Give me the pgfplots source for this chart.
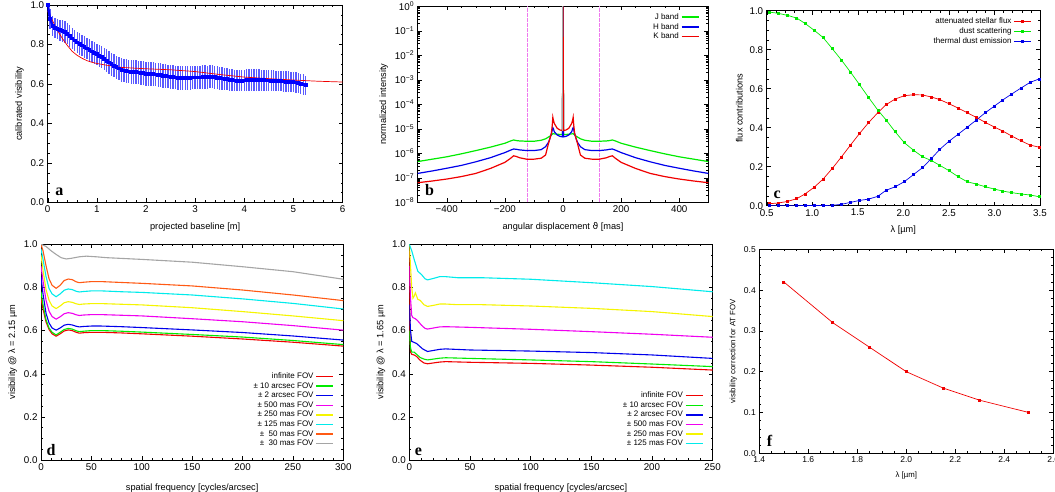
\documentclass[border=0pt]{standalone}
\usepackage{pgfplots}
\pgfplotsset{compat=1.18}
\usepackage{pgfplotstable}
\usepackage{fontspec}
\setmainfont{Liberation Sans}
\newfontfamily\panelfont{Liberation Serif}
\newfontfamily\dejavu{DejaVu Sans}
\definecolor{gpgreen}{RGB}{0,235,0}
\definecolor{gpblue}{RGB}{0,0,235}
\definecolor{gpred}{RGB}{240,0,0}
\definecolor{gpmag}{RGB}{240,0,240}
\definecolor{gpyel}{RGB}{245,245,0}
\definecolor{gpcyan}{RGB}{0,235,235}
\definecolor{gporange}{RGB}{255,90,20}
\definecolor{gpgray}{RGB}{165,165,165}
\definecolor{gperr}{RGB}{90,90,255}
\definecolor{gppink}{RGB}{238,120,238}
\tikzset{
  dec1/.style={/pgf/number format/.cd, fixed, fixed zerofill, precision=1},
  panel/.style={font=\panelfont\bfseries\fontsize{16}{16}\selectfont, anchor=base west, inner sep=0pt},
}
\pgfplotsset{
  gp/.style={
    scale only axis,
    anchor=south west,
    axis line style={line width=0.8pt},
    tick align=inside,
    major tick length=4pt, minor tick length=2pt,
    every tick/.style={black, line width=0.4pt},
    tick label style={font=\fontsize{9.8}{10}\selectfont},
    label style={font=\fontsize{9.2}{10}\selectfont},
    xlabel style={yshift=-3pt},
    /pgf/number format/assume math mode=true,
    legend style={draw=none, fill=none, font=\fontsize{8}{9.5}\selectfont, row sep=-1.5pt},
    legend cell align=right,
    legend plot pos=right,
    legend image post style={line width=1.4pt},
    every axis plot/.append style={line width=1.1pt},
  },
}
\pgfplotstableread{
x y e
0.00 1.000 0.00
0.05 0.930 0.05
0.10 0.895 0.05
0.15 0.885 0.05
0.20 0.878 0.05
0.25 0.872 0.052
0.30 0.868 0.055
0.35 0.862 0.055
0.40 0.855 0.055
0.45 0.843 0.055
0.50 0.830 0.055
0.55 0.820 0.055
0.60 0.810 0.055
0.65 0.802 0.055
0.70 0.795 0.055
0.75 0.787 0.055
0.80 0.780 0.055
0.85 0.772 0.055
0.90 0.765 0.055
0.95 0.757 0.055
1.00 0.750 0.055
1.05 0.742 0.055
1.10 0.735 0.055
1.15 0.727 0.057
1.20 0.718 0.058
1.25 0.709 0.058
1.30 0.700 0.058
1.35 0.692 0.058
1.40 0.685 0.058
1.45 0.678 0.06
1.50 0.672 0.06
1.55 0.668 0.06
1.60 0.665 0.06
1.65 0.663 0.06
1.70 0.662 0.06
1.75 0.661 0.06
1.80 0.660 0.06
1.85 0.658 0.06
1.90 0.657 0.06
1.95 0.655 0.06
2.00 0.652 0.06
2.05 0.651 0.06
2.10 0.650 0.06
2.15 0.649 0.06
2.20 0.648 0.06
2.25 0.646 0.06
2.30 0.645 0.06
2.35 0.642 0.06
2.40 0.640 0.06
2.45 0.638 0.06
2.50 0.636 0.06
2.55 0.634 0.06
2.60 0.633 0.06
2.65 0.632 0.06
2.70 0.632 0.06
2.75 0.632 0.06
2.80 0.632 0.06
2.85 0.632 0.06
2.90 0.632 0.06
2.95 0.633 0.06
3.00 0.633 0.06
3.05 0.633 0.06
3.10 0.633 0.06
3.15 0.634 0.06
3.20 0.634 0.06
3.25 0.635 0.058
3.30 0.636 0.058
3.35 0.636 0.058
3.40 0.635 0.058
3.45 0.632 0.058
3.50 0.630 0.058
3.55 0.628 0.056
3.60 0.627 0.055
3.65 0.624 0.055
3.70 0.622 0.055
3.75 0.620 0.055
3.80 0.618 0.055
3.85 0.617 0.055
3.90 0.617 0.055
3.95 0.617 0.055
4.00 0.618 0.055
4.05 0.619 0.055
4.10 0.619 0.055
4.15 0.620 0.055
4.20 0.620 0.055
4.25 0.620 0.055
4.30 0.620 0.055
4.35 0.620 0.053
4.40 0.619 0.052
4.45 0.618 0.052
4.50 0.618 0.052
4.55 0.617 0.052
4.60 0.617 0.052
4.65 0.616 0.052
4.70 0.615 0.052
4.75 0.614 0.052
4.80 0.613 0.052
4.85 0.612 0.052
4.90 0.612 0.052
4.95 0.611 0.052
5.00 0.610 0.052
5.05 0.608 0.052
5.10 0.605 0.052
5.15 0.601 0.052
5.20 0.597 0.052
5.25 0.593 0.05
}\visdata
\begin{document}
\begin{tikzpicture}
\path[use as bounding box] (0pt,0pt) rectangle (1055pt,492pt);

% ---------------- panel a ----------------
\begin{axis}[gp, at={(47.7pt,289.5pt)}, width=294.8pt, height=197.5pt,
  xmin=0, xmax=6, ymin=0, ymax=1,
  xtick={0,1,...,6}, ytick={0,0.2,...,1.0},
  minor x tick num=4, minor y tick num=3,
  yticklabel style={dec1},
  xlabel={projected baseline [m]}, ylabel={calibrated visibility}]
\addplot[blue, line width=2.2pt, mark=square*, mark size=0.8pt,
  error bars/.cd, y dir=both, y explicit,
  error bar style={gperr, line width=1.35pt}, error mark=none] table[x=x, y=y, y error=e] {\visdata};
\addplot[gpred, line width=0.7pt] coordinates {
(0,0.97) (0.05,0.945) (0.1,0.92) (0.2,0.87) (0.3,0.83) (0.4,0.795) (0.5,0.765)
(0.6,0.745) (0.7,0.73) (0.8,0.718) (0.9,0.71) (1.0,0.704) (1.2,0.695) (1.5,0.684)
(2.0,0.677) (2.5,0.672) (3.0,0.663) (3.5,0.648) (4.0,0.635) (4.5,0.627)
(5.0,0.62) (5.5,0.614) (6.0,0.61)};
\addplot[blue, line width=2.2pt, mark=square*, mark size=0.8pt] table[x=x, y=y] {\visdata};
\node[panel] at (rel axis cs:0.025,0.035) {a};
\end{axis}

% ---------------- panel b ----------------
\begin{axis}[gp, at={(417.7pt,289.7pt)}, width=290.6pt, height=196pt,
  ymode=log, xmin=-500, xmax=500, ymin=1e-8, ymax=1,
  xtick={-400,-200,0,200,400}, xticklabels={−400,−200,0,200,400},
  minor x tick num=3,
  ytick={1e-8,1e-7,1e-6,1e-5,1e-4,1e-3,1e-2,1e-1,1},
  yticklabels={10\textsuperscript{−8},10\textsuperscript{−7},10\textsuperscript{−6},10\textsuperscript{−5},10\textsuperscript{−4},10\textsuperscript{−3},10\textsuperscript{−2},10\textsuperscript{−1},10\textsuperscript{0}},
  xlabel={angular displacement {\dejavu ϑ} [mas]}, ylabel={normalized intensity},
  legend style={at={(0.98,0.985)}, anchor=north east}]
\addplot[color=gppink, line width=0.9pt, dash pattern=on 4pt off 1pt, forget plot] coordinates {(-124,1e-8) (-124,1)};
\addplot[color=gppink, line width=0.9pt, dash pattern=on 4pt off 1pt, forget plot] coordinates {(124,1e-8) (124,1)};
\addplot[gpgreen, line width=1.2pt] coordinates {
(-500,4.6e-7) (-450,5.75e-7) (-400,7.2e-7) (-350,9.5e-7) (-300,1.29e-6) (-250,1.78e-6)
(-200,2.57e-6) (-180,3.2e-6) (-170,3.5e-6) (-160,3.3e-6) (-150,3.2e-6) (-125,3.1e-6)
(-100,3.1e-6) (-75,3.4e-6) (-60,3.9e-6) (-50,4.6e-6) (-45,5e-6) (-40,5.6e-6) (-35,6.3e-6)
(-30,6.2e-6) (-20,6e-6) (-10,5.9e-6) (-2,5.9e-6) (0,1) (2,5.9e-6) (10,5.9e-6) (20,6e-6)
(30,6.2e-6) (35,6.3e-6) (40,5.6e-6) (45,5e-6) (50,4.6e-6) (60,3.9e-6) (75,3.4e-6)
(100,3.1e-6) (125,3.1e-6) (150,3.2e-6) (160,3.3e-6) (170,3.5e-6) (180,3.2e-6)
(200,2.57e-6) (250,1.78e-6) (300,1.29e-6) (350,9.5e-7) (400,7.2e-7) (450,5.75e-7) (500,4.6e-7)};
\addlegendentry{J band}
\addplot[gpblue, line width=1.2pt] coordinates {
(-500,1.51e-7) (-450,1.9e-7) (-400,2.45e-7) (-350,3.2e-7) (-300,4.5e-7) (-250,6.6e-7)
(-200,1.07e-6) (-180,1.35e-6) (-170,1.5e-6) (-160,1.45e-6) (-150,1.38e-6) (-125,1.29e-6)
(-100,1.29e-6) (-75,1.41e-6) (-60,1.86e-6) (-50,2.8e-6) (-45,4e-6) (-40,6.3e-6) (-37,8.9e-6)
(-35,1.12e-5) (-33,1e-5) (-30,7.6e-6) (-20,5.6e-6) (-10,4.9e-6) (-2,4.7e-6) (0,1)
(2,4.7e-6) (10,4.9e-6) (20,5.6e-6) (30,7.6e-6) (33,1e-5) (35,1.12e-5) (37,8.9e-6)
(40,6.3e-6) (45,4e-6) (50,2.8e-6) (60,1.86e-6) (75,1.41e-6) (100,1.29e-6) (125,1.29e-6)
(150,1.38e-6) (160,1.45e-6) (170,1.5e-6) (180,1.35e-6) (200,1.07e-6) (250,6.6e-7)
(300,4.5e-7) (350,3.2e-7) (400,2.45e-7) (450,1.9e-7) (500,1.51e-7)};
\addlegendentry{H band}
\addplot[gpred, line width=1.2pt] coordinates {
(-500,6.3e-8) (-450,7.4e-8) (-400,8.9e-8) (-350,1.12e-7) (-300,1.51e-7) (-250,2.4e-7)
(-200,4.27e-7) (-180,6.3e-7) (-170,7.9e-7) (-160,7.4e-7) (-150,6.6e-7) (-125,5.75e-7)
(-100,5.75e-7) (-75,6.3e-7) (-60,8.5e-7) (-50,2.5e-6) (-45,4e-6) (-40,6.6e-6) (-37,1.41e-5)
(-35,2.95e-5) (-33,2.24e-5) (-30,1.66e-5) (-20,1.05e-5) (-10,8.9e-6) (-2,8.5e-6) (0,1)
(2,8.5e-6) (10,8.9e-6) (20,1.05e-5) (30,1.66e-5) (33,2.24e-5) (35,2.95e-5) (37,1.41e-5)
(40,6.6e-6) (45,4e-6) (50,2.5e-6) (60,8.5e-7) (75,6.3e-7) (100,5.75e-7) (125,5.75e-7)
(150,6.6e-7) (160,7.4e-7) (170,7.9e-7) (180,6.3e-7) (200,4.27e-7) (250,2.4e-7)
(300,1.51e-7) (350,1.12e-7) (400,8.9e-8) (450,7.4e-8) (500,6.3e-8)};
\addlegendentry{K band}
\addplot[gpgray, line width=1.2pt, forget plot] coordinates {(-1.5,8.5e-6) (-1.5,1)};
\node[panel] at (rel axis cs:0.025,0.035) {b};
\end{axis}

% ---------------- panel c ----------------
\begin{axis}[gp, at={(766.7pt,286.3pt)}, width=273.3pt, height=195pt,
  xmin=0.5, xmax=3.5, ymin=0, ymax=1,
  xtick={0.5,1.0,...,3.5}, ytick={0,0.2,...,1.0},
  minor x tick num=4, minor y tick num=3,
  xticklabel style={dec1}, yticklabel style={dec1},
  xlabel={λ [µm]}, ylabel={flux contributions},
  legend style={at={(0.98,0.985)}, anchor=north east},
  legend image post style={line width=0.8pt},
  every axis plot/.append style={line width=0.7pt, mark=square*, mark size=1pt}]
\addplot[gpred, mark options={gpred}] coordinates {
(0.53,0.01) (0.63,0.014) (0.73,0.022) (0.83,0.036) (0.92,0.06) (1.02,0.094) (1.12,0.137)
(1.22,0.191) (1.32,0.25) (1.42,0.311) (1.52,0.371) (1.62,0.427) (1.72,0.477) (1.81,0.518)
(1.91,0.547) (2.01,0.564) (2.11,0.569) (2.21,0.568) (2.31,0.557) (2.40,0.544) (2.50,0.523)
(2.60,0.501) (2.70,0.477) (2.80,0.453) (2.90,0.427) (3.00,0.403) (3.09,0.383) (3.19,0.357)
(3.29,0.333) (3.39,0.311) (3.49,0.30)};
\addlegendentry{attenuated stellar flux}
\addplot[gpgreen, mark options={gpgreen}] coordinates {
(0.53,0.993) (0.63,0.986) (0.73,0.976) (0.83,0.962) (0.92,0.935) (1.02,0.90) (1.12,0.862)
(1.22,0.805) (1.32,0.747) (1.42,0.685) (1.52,0.62) (1.62,0.554) (1.72,0.49) (1.81,0.44)
(1.91,0.379) (2.01,0.323) (2.11,0.285) (2.21,0.251) (2.31,0.231) (2.40,0.207) (2.50,0.18)
(2.60,0.149) (2.70,0.123) (2.80,0.111) (2.90,0.097) (3.00,0.085) (3.09,0.075) (3.19,0.067)
(3.29,0.06) (3.39,0.055) (3.49,0.046)};
\addlegendentry{dust scattering}
\addplot[gpblue, mark options={gpblue}] coordinates {
(0.53,0) (0.63,0) (0.73,0) (0.83,0) (0.92,0.001) (1.02,0.001) (1.12,0.001)
(1.22,0.002) (1.32,0.007) (1.42,0.017) (1.52,0.027) (1.62,0.034) (1.72,0.048) (1.81,0.079)
(1.91,0.097) (2.01,0.123) (2.11,0.159) (2.21,0.195) (2.31,0.243) (2.40,0.289) (2.50,0.33)
(2.60,0.366) (2.70,0.402) (2.80,0.439) (2.90,0.477) (3.00,0.511) (3.09,0.542) (3.19,0.573)
(3.29,0.603) (3.39,0.632) (3.49,0.65)};
\addlegendentry{thermal dust emission}
\node[panel] at (rel axis cs:0.025,0.035) {c};
\end{axis}

% ---------------- panel d ----------------
\begin{axis}[gp, at={(41pt,32pt)}, width=302.3pt, height=215.7pt,
  xmin=0, xmax=300, ymin=0, ymax=1,
  xtick={0,50,...,300}, ytick={0,0.2,...,1.0},
  minor x tick num=4, minor y tick num=3,
  yticklabel style={dec1},
  xlabel style={yshift=-3pt},
  xlabel={spatial frequency [cycles/arcsec]}, ylabel={visibility @ λ = 2.15 µm},
  legend style={at={(0.98,0.04)}, anchor=south east}]
\addplot[gpred] coordinates {
(0,0.75) (2,0.70) (5,0.64) (8,0.605) (11,0.585) (15,0.574) (19,0.585) (23,0.598) (27,0.603)
(31,0.600) (35,0.592) (38,0.588) (42,0.59) (50,0.592) (60,0.592) (80,0.589) (100,0.585)
(150,0.574) (200,0.561) (250,0.546) (300,0.528)};
\addlegendentry{infinite FOV}
\addplot[gpgreen] coordinates {
(0,0.78) (2,0.72) (5,0.65) (8,0.612) (11,0.592) (15,0.58) (19,0.592) (23,0.605) (27,0.61)
(31,0.607) (35,0.599) (38,0.595) (42,0.597) (50,0.600) (60,0.600) (80,0.597) (100,0.593)
(150,0.582) (200,0.570) (250,0.554) (300,0.535)};
\addlegendentry{± 10 arcsec FOV}
\addplot[gpblue] coordinates {
(0,0.85) (2,0.77) (5,0.68) (8,0.635) (11,0.612) (15,0.602) (19,0.612) (23,0.625) (27,0.629)
(31,0.626) (35,0.62) (38,0.617) (42,0.619) (50,0.621) (60,0.621) (80,0.618) (100,0.614)
(150,0.603) (200,0.591) (250,0.575) (300,0.556)};
\addlegendentry{± 2 arcsec FOV}
\addplot[gpmag] coordinates {
(0,0.90) (2,0.83) (5,0.74) (8,0.69) (11,0.665) (15,0.653) (19,0.664) (23,0.678) (27,0.683)
(31,0.680) (35,0.673) (38,0.670) (42,0.672) (50,0.674) (60,0.674) (80,0.671) (100,0.668)
(150,0.655) (200,0.641) (250,0.623) (300,0.602)};
\addlegendentry{± 500 mas FOV}
\addplot[gpyel] coordinates {
(0,0.95) (2,0.88) (5,0.79) (8,0.74) (11,0.714) (15,0.702) (19,0.714) (23,0.729) (27,0.734)
(31,0.731) (35,0.724) (38,0.721) (42,0.723) (50,0.725) (60,0.725) (80,0.722) (100,0.719)
(150,0.706) (200,0.688) (250,0.668) (300,0.646)};
\addlegendentry{± 250 mas FOV}
\addplot[gpcyan] coordinates {
(0,0.98) (2,0.93) (5,0.85) (8,0.795) (11,0.77) (15,0.757) (19,0.77) (23,0.787) (27,0.793)
(31,0.79) (35,0.782) (38,0.779) (42,0.781) (50,0.784) (60,0.784) (80,0.780) (100,0.777)
(150,0.765) (200,0.747) (250,0.726) (300,0.70)};
\addlegendentry{± 125 mas FOV}
\addplot[gporange] coordinates {
(0,1.0) (2,0.97) (5,0.90) (8,0.84) (11,0.81) (15,0.796) (19,0.81) (23,0.832) (27,0.839)
(31,0.836) (35,0.826) (38,0.822) (42,0.824) (50,0.827) (60,0.827) (80,0.823) (100,0.819)
(150,0.807) (200,0.788) (250,0.765) (300,0.739)};
\addlegendentry{±\ \ 50 mas FOV}
\addplot[gpgray] coordinates {
(0,1.0) (5,0.99) (10,0.97) (15,0.953) (20,0.938) (25,0.932) (30,0.935) (38,0.942) (45,0.945)
(55,0.942) (65,0.938) (100,0.93) (150,0.917) (200,0.896) (250,0.873) (300,0.838)};
\addlegendentry{±\ \ 30 mas FOV}
\node[panel] at (rel axis cs:0.018,0.02) {d};
\end{axis}

% ---------------- panel e ----------------
\begin{axis}[gp, at={(409.3pt,32pt)}, width=303.3pt, height=215.7pt,
  xmin=0, xmax=250, ymin=0, ymax=1,
  xtick={0,50,...,250}, ytick={0,0.2,...,1.0},
  minor x tick num=4, minor y tick num=3,
  yticklabel style={dec1},
  xlabel style={yshift=-3pt},
  xlabel={spatial frequency [cycles/arcsec]}, ylabel={visibility @ λ = 1.65 µm},
  legend style={at={(0.98,0.04)}, anchor=south east}]
\addplot[gpred] coordinates {
(0,0.97) (0.5,0.6) (1,0.5) (2,0.49) (4,0.487) (6,0.48) (9,0.462) (12,0.45) (15,0.446) (20,0.45)
(25,0.454) (30,0.456) (50,0.453) (100,0.448) (150,0.44) (200,0.43) (250,0.417)};
\addlegendentry{infinite FOV}
\addplot[gpgreen] coordinates {
(0,0.6) (1,0.52) (2,0.5) (4,0.5) (6,0.49) (9,0.475) (12,0.468) (15,0.464) (20,0.468)
(25,0.472) (30,0.474) (50,0.471) (100,0.464) (150,0.456) (200,0.445) (250,0.433)};
\addlegendentry{± 10 arcsec FOV}
\addplot[gpblue] coordinates {
(0,0.72) (1,0.6) (2,0.55) (4,0.545) (6,0.54) (8,0.53) (11,0.515) (15,0.503) (20,0.508)
(25,0.513) (30,0.515) (50,0.51) (100,0.505) (150,0.498) (200,0.487) (250,0.471)};
\addlegendentry{± 2 arcsec FOV}
\addplot[gpmag] coordinates {
(0,0.9) (1,0.75) (2,0.67) (3,0.66) (5,0.655) (7,0.645) (10,0.625) (13,0.61) (15,0.607)
(20,0.612) (25,0.617) (30,0.618) (50,0.615) (100,0.606) (150,0.595) (200,0.583) (250,0.569)};
\addlegendentry{± 500 mas FOV}
\addplot[gpyel] coordinates {
(0,1.0) (1,0.9) (2,0.8) (3,0.75) (4,0.76) (5,0.775) (6,0.76) (7,0.745) (9,0.74) (12,0.72)
(15,0.712) (20,0.717) (25,0.723) (30,0.723) (40,0.72) (60,0.72) (100,0.714) (150,0.703)
(200,0.688) (250,0.665)};
\addlegendentry{± 250 mas FOV}
\addplot[gpcyan] coordinates {
(0,1.0) (2,0.97) (4,0.93) (7,0.875) (10,0.86) (13,0.84) (15,0.835) (20,0.842) (25,0.85)
(30,0.85) (40,0.845) (60,0.845) (100,0.838) (150,0.822) (200,0.804) (250,0.78)};
\addlegendentry{± 125 mas FOV}
\node[panel] at (rel axis cs:0.018,0.02) {e};
\end{axis}

% ---------------- panel f ----------------
\begin{axis}[gp, at={(759.3pt,38.7pt)}, width=294pt, height=204pt,
  xmin=1.4, xmax=2.6, ymin=0, ymax=0.5,
  xtick={1.4,1.6,...,2.6}, ytick={0,0.1,...,0.5},
  minor x tick num=3, minor y tick num=4,
  xticklabel style={dec1}, yticklabel style={dec1},
  tick label style={font=\fontsize{8.5}{9}\selectfont},
  label style={font=\fontsize{7.8}{9}\selectfont},
  xlabel style={yshift=1pt},
  xlabel={λ [µm]}, ylabel={visibility correction for AT FOV}]
\addplot[gpred, line width=0.7pt, mark=square*, mark size=1pt] coordinates {
(1.5,0.42) (1.7,0.32) (1.85,0.26) (2.0,0.2) (2.15,0.16) (2.3,0.13) (2.5,0.1)};
\node[panel] at (rel axis cs:0.025,0.035) {f};
\end{axis}
\end{tikzpicture}
\end{document}
